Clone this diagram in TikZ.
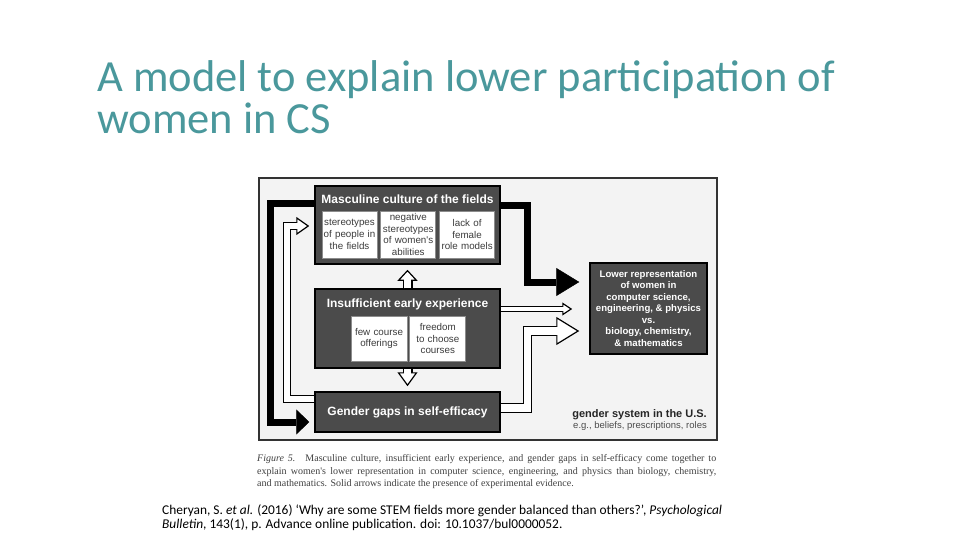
\documentclass[tikz,border=0pt]{standalone}
\usepackage{fontspec}
\setmainfont{Carlito}
\newfontfamily\figfont{Liberation Sans}
\newfontfamily\capfont{Liberation Serif}
\usetikzlibrary{arrows.meta,positioning}

\definecolor{titleteal}{HTML}{4A989C}
\definecolor{boxgray}{HTML}{4B4B4B}
\definecolor{panelgray}{HTML}{F3F3F3}
\definecolor{subtext}{HTML}{3C3C3C}
\definecolor{captext}{HTML}{404040}

\tikzset{
  slidetitle/.style={anchor=base west, inner sep=0pt, text=titleteal,
    font=\fontsize{44.5}{46}\selectfont},
  panel/.style={draw=black!80, line width=2pt, fill=panelgray},
  darkbox/.style={draw=black, line width=1.5pt, fill=boxgray, inner sep=0pt,
    text=white, font=\figfont\bfseries\fontsize{12}{14}\selectfont},
  boxtitle/.style={anchor=base, inner sep=0pt, text=white,
    font=\figfont\bfseries\fontsize{12}{14}\selectfont},
  subbox/.style={draw=black!45, line width=0.8pt, fill=white, inner sep=0pt,
    text width=#1, minimum height=47pt, align=center, text=subtext,
    font=\figfont\fontsize{9.8}{11.8}\selectfont},
  solidarrow/.style 2 args={line width=7pt, line join=miter,
    -{Triangle[length=#1, width=#2, line width=0.5pt]}},
  hollowarrow/.style n args={3}{line width=#1, line join=miter, draw=black,
    -{Triangle[length=#2, width=#3, fill=white, line width=1.2pt]},
    postaction={draw=white, line width=#1-2.4pt, arrows=-, shorten >=#2-1.5pt}}
}

\begin{document}
\begin{tikzpicture}[x=1pt,y=-1pt]
\useasboundingbox[fill=white] (0,0) rectangle (960,540);

% slide title
\node[slidetitle] (title1) at (97,92) {A model to explain lower participation of};
\node[slidetitle] (title2) at (97,134) {women in CS};

% figure panel
\draw[panel] (259,178) rectangle (717,440);

% masculine culture
\node[darkbox, minimum width=185pt, minimum height=78pt] (culture) at (407.5,225) {};
\node[boxtitle] (culturetitle) at (407.5,203) {Masculine culture of the fields};
\node[subbox=55pt] (stereo) at (349.5,234.5) {stereotypes\\of people in\\the fields};
\node[subbox=55pt, right=3pt of stereo] (negstereo) {negative\\stereotypes\\of women's\\abilities};
\node[subbox=55pt, right=3pt of negstereo] (rolemodels) {lack of\\female\\role models};

% early experience
\node[darkbox, minimum width=185pt, minimum height=79pt] (early) at (407.5,328.5) {};
\node[boxtitle] (earlytitle) at (407.5,307) {Insufficient early experience};
\node[subbox=56pt, minimum height=45pt] (fewcourses) at (379,338.5) {few course\\offerings};
\node[subbox=56pt, minimum height=45pt, right=2pt of fewcourses] (freedom) {freedom\\to choose\\courses};

% self-efficacy
\node[darkbox, minimum width=185pt, minimum height=40pt] (efficacy) at (407.5,412) {Gender gaps in self-efficacy};

% outcome
\node[darkbox, minimum width=117pt, minimum height=91pt, align=center,
  font=\figfont\bfseries\fontsize{9.6}{11.5}\selectfont] (lowerrep) at (648.5,308.5)
  {Lower representation\\of women in\\computer science,\\engineering, \& physics\\vs.\\biology, chemistry,\\\& mathematics};

% gender system note
\node[anchor=base east, inner sep=0pt, text=black!85,
  font=\figfont\bfseries\fontsize{11}{13}\selectfont] (system) at (707,417) {gender system in the U.S.};
\node[anchor=base east, inner sep=0pt, text=black!70,
  font=\figfont\fontsize{9.5}{11}\selectfont] (systemnote) at (707,428) {e.g., beliefs, prescriptions, roles};

% arrows
\draw[solidarrow={23pt}{28pt}] ([yshift=20pt]culture.east) -- ++(27,0)
  |- ([xshift=-10pt,yshift=26.5pt]lowerrep.west);
\draw[solidarrow={13pt}{25pt}] ([yshift=22pt]culture.west) -- ++(-43.5,0)
  |- ([xshift=-5pt,yshift=-10pt]efficacy.west);
\draw[hollowarrow={8.5pt}{13pt}{18pt}] ([yshift=13pt]efficacy.west) -- ++(-27.5,0)
  |- ([xshift=-5pt,yshift=-1pt]culture.west);
\draw[hollowarrow={10pt}{11pt}{20pt}] (early.north) -- ([yshift=-5pt]culture.south);
\draw[hollowarrow={10pt}{14pt}{20pt}] (early.south) -- ([yshift=5pt]efficacy.north);
\draw[hollowarrow={6.5pt}{10pt}{13pt}] ([yshift=19.5pt]early.east)
  -- ([xshift=-17pt,yshift=-0.5pt]lowerrep.west);
\draw[hollowarrow={9.5pt}{23pt}{28pt}] ([yshift=4pt]efficacy.east) -- ++(26.5,0)
  |- ([xshift=-10pt,yshift=-22.5pt]lowerrep.west);

% caption
\node[anchor=north west, inner sep=0pt, text width=459pt, align=justify, text=captext,
  font=\capfont\fontsize{10}{12.5}\selectfont] (caption) at (257,454.5)
  {\textit{Figure 5.}\quad Masculine culture, insufficient early experience, and gender gaps in self-efficacy come together to\linebreak
  explain women's lower representation in computer science, engineering, and physics than biology, chemistry,\linebreak
  and mathematics. Solid arrows indicate the presence of experimental evidence.};

% reference
\node[anchor=north west, inner sep=0pt, align=left,
  font=\fontsize{13.4}{14}\selectfont] (citation) at (162,504.5)
  {Cheryan, S. \textit{et al.} (2016) `Why are some STEM fields more gender balanced than others?', \textit{Psychological}\\
  \textit{Bulletin}, 143(1), p. Advance online publication. doi: 10.1037/bul0000052.};
\end{tikzpicture}
\end{document}
